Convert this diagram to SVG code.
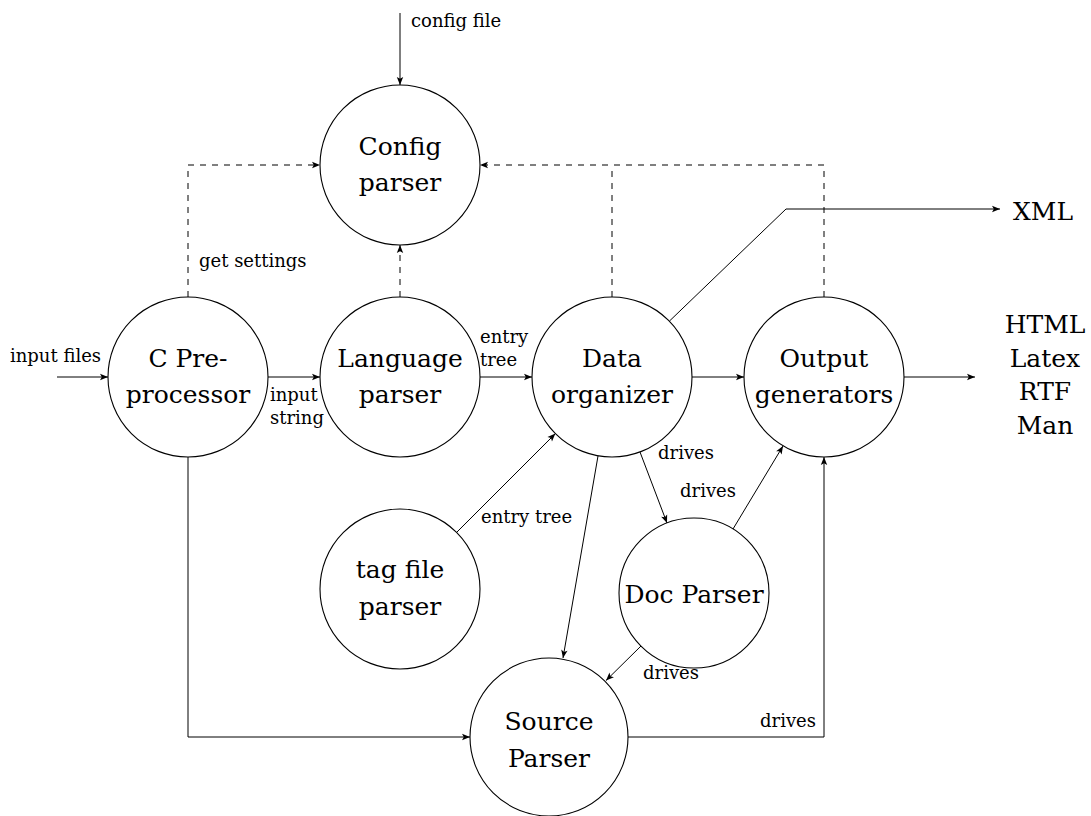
<svg xmlns="http://www.w3.org/2000/svg" width="1091" height="816" viewBox="0 0 1091 816">
<style>
text{font-family:'DejaVu Serif','Liberation Serif',serif;fill:#000}
.n{font-size:25px;text-anchor:middle}
.s{font-size:18px}
.c{fill:#fff;stroke:#000;stroke-width:1.1}
.e{fill:none;stroke:#000;stroke-width:1}
.d{stroke-dasharray:6 6}
.a{marker-end:url(#ah)}
</style>
<defs>
<marker id="ah" viewBox="-9 -4 10 8" refX="0" refY="0" markerWidth="10" markerHeight="8" markerUnits="userSpaceOnUse" orient="auto">
<path d="M0,0 L-8,-3.2 L-6.2,0 L-8,3.2 Z" fill="#000"/>
</marker>
</defs>
<rect width="1091" height="816" fill="#fff"/>
<g id="connectors">
<path class="e a" d="M400,13 V85"/>
<path class="e d a" d="M188,297 V165 H320"/>
<path class="e d a" d="M400,297 V245"/>
<path class="e d" d="M612,297 V165"/>
<path class="e d a" d="M824,297 V165 H480"/>
<path class="e a" d="M57,377 H108"/>
<path class="e a" d="M268,377 H320"/>
<path class="e a" d="M480,377 H532"/>
<path class="e a" d="M692,377 H744"/>
<path class="e a" d="M904,377 H975"/>
<path class="e a" d="M669.5,321 L786,209 H1000"/>
<path class="e a" d="M456.6,532.4 L555.4,433.6"/>
<path class="e a" d="M598,456 L563,658"/>
<path class="e a" d="M640,452 L667,523"/>
<path class="e a" d="M733,529 L783,446"/>
<path class="e a" d="M641,646 L606,680.5"/>
<path class="e a" d="M188,457 V737 H470"/>
<path class="e a" d="M628,737 H824 V457"/>
<text class="s" x="411" y="27">config file</text>
<text class="s" x="199" y="267">get settings</text>
<text class="s" x="10" y="362">input files</text>
<text class="s" x="270" y="401">input</text>
<text class="s" x="270" y="424">string</text>
<text class="s" x="480" y="343">entry</text>
<text class="s" x="480" y="366">tree</text>
<text class="s" x="481" y="523">entry tree</text>
<text class="s" x="658" y="459">drives</text>
<text class="s" x="680" y="497">drives</text>
<text class="s" x="643" y="679">drives</text>
<text class="s" x="760" y="727">drives</text>
</g>
<g id="config">
<circle class="c" cx="400" cy="165" r="80"/>
<text class="n" x="400" y="155">Config</text>
<text class="n" x="400" y="191">parser</text>
</g>
<g id="cpre">
<circle class="c" cx="188" cy="377" r="80"/>
<text class="n" x="188" y="367">C Pre-</text>
<text class="n" x="188" y="403">processor</text>
</g>
<g id="language">
<circle class="c" cx="400" cy="377" r="80"/>
<text class="n" x="400" y="367">Language</text>
<text class="n" x="400" y="403">parser</text>
</g>
<g id="data">
<circle class="c" cx="612" cy="377" r="80"/>
<text class="n" x="612" y="367">Data</text>
<text class="n" x="612" y="403">organizer</text>
</g>
<g id="output">
<circle class="c" cx="824" cy="377" r="80"/>
<text class="n" x="824" y="367">Output</text>
<text class="n" x="824" y="403">generators</text>
</g>
<g id="tag">
<circle class="c" cx="400" cy="589" r="80"/>
<text class="n" x="400" y="578">tag file</text>
<text class="n" x="400" y="615">parser</text>
</g>
<g id="doc">
<circle class="c" cx="694" cy="593" r="75"/>
<text class="n" x="694" y="603">Doc Parser</text>
</g>
<g id="source">
<circle class="c" cx="549" cy="737" r="79"/>
<text class="n" x="549" y="730">Source</text>
<text class="n" x="549" y="767">Parser</text>
</g>
<g id="xml">
<text class="n" x="1013" y="220" style="text-anchor:start">XML</text>
</g>
<g id="formats">
<text class="n" x="1045" y="333">HTML</text>
<text class="n" x="1045" y="367">Latex</text>
<text class="n" x="1045" y="400">RTF</text>
<text class="n" x="1045" y="434">Man</text>
</g>
</svg>
